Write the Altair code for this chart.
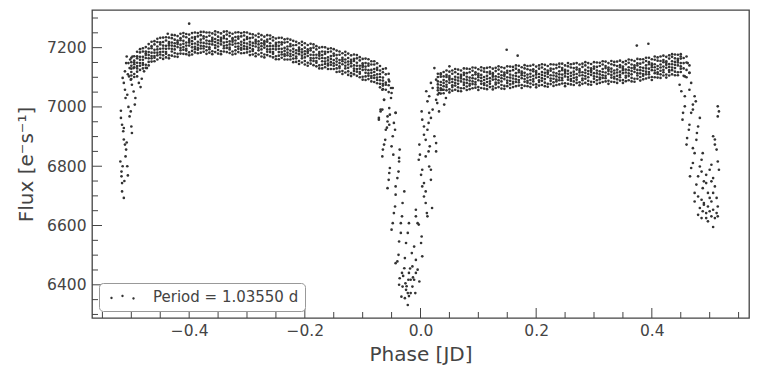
import altair as alt
import pandas as pd

LEGEND = "Period = 1.03550 d"
x_labels = [-0.4, -0.2, 0.0, 0.2, 0.4]
y_labels = [6400, 6600, 6800, 7000, 7200]
x_minor = [-0.55, -0.5, -0.45, -0.35, -0.3, -0.25, -0.15, -0.1, -0.05, 0.05, 0.1, 0.15, 0.25, 0.3, 0.35, 0.45, 0.5, 0.55]
y_minor = [6300, 6350, 6450, 6500, 6550, 6650, 6700, 6750, 6850, 6900, 6950, 7050, 7100, 7150, 7250, 7300]

band_left_phase = [
    -0.500, -0.495, -0.490, -0.485, -0.480, -0.475, -0.470, -0.465, -0.460, -0.455,
    -0.450, -0.445, -0.440, -0.435, -0.430, -0.425, -0.420, -0.415, -0.410, -0.405,
    -0.400, -0.395, -0.390, -0.385, -0.380, -0.375, -0.370, -0.365, -0.360, -0.355,
    -0.350, -0.345, -0.340, -0.335, -0.330, -0.325, -0.320, -0.315, -0.310, -0.305,
    -0.300, -0.295, -0.290, -0.285, -0.280, -0.275, -0.270, -0.265, -0.260, -0.255,
    -0.250, -0.245, -0.240, -0.235, -0.230, -0.225, -0.220, -0.215, -0.210, -0.205,
    -0.200, -0.195, -0.190, -0.185, -0.180, -0.175, -0.170, -0.165, -0.160, -0.155,
    -0.150, -0.145, -0.140, -0.135, -0.130, -0.125, -0.120, -0.115, -0.110, -0.105,
    -0.100, -0.095, -0.090, -0.085, -0.080, -0.075, -0.070, -0.065]
band_left_flux = [
    [7094, 7106, 7118, 7129, 7139, 7151, 7166], [7101, 7111, 7134, 7144, 7150, 7156, 7171],
    [7119, 7130, 7138, 7149, 7164, 7171, 7186], [7125, 7139, 7148, 7159, 7169, 7184, 7195],
    [7130, 7142, 7148, 7159, 7169, 7187, 7198], [7132, 7142, 7165, 7175, 7181, 7187, 7202],
    [7140, 7152, 7164, 7175, 7185, 7197, 7212], [7153, 7164, 7172, 7183, 7198, 7205, 7220],
    [7154, 7166, 7172, 7183, 7193, 7211, 7222], [7160, 7174, 7183, 7194, 7204, 7219, 7230],
    [7166, 7177, 7185, 7196, 7211, 7218, 7233], [7162, 7174, 7186, 7197, 7207, 7219, 7234],
    [7167, 7179, 7185, 7196, 7206, 7224, 7235], [7164, 7174, 7197, 7207, 7213, 7219, 7234],
    [7173, 7187, 7196, 7207, 7217, 7232, 7243], [7170, 7182, 7194, 7205, 7215, 7227, 7242],
    [7169, 7179, 7202, 7212, 7218, 7224, 7239], [7180, 7191, 7199, 7210, 7225, 7232, 7247],
    [7179, 7193, 7202, 7213, 7223, 7238, 7249], [7178, 7190, 7196, 7207, 7217, 7235, 7246],
    [7174, 7184, 7207, 7217, 7223, 7229, 7244], [7177, 7189, 7201, 7212, 7222, 7234, 7249],
    [7184, 7195, 7203, 7214, 7229, 7236, 7251], [7181, 7193, 7199, 7210, 7220, 7238, 7249],
    [7183, 7197, 7206, 7217, 7227, 7242, 7253], [7186, 7197, 7205, 7216, 7231, 7238, 7253],
    [7179, 7191, 7203, 7214, 7224, 7236, 7251], [7183, 7195, 7201, 7212, 7222, 7240, 7251],
    [7178, 7188, 7211, 7221, 7227, 7233, 7248], [7185, 7199, 7208, 7219, 7229, 7244, 7255],
    [7180, 7192, 7204, 7215, 7225, 7237, 7252], [7178, 7188, 7211, 7221, 7227, 7233, 7248],
    [7187, 7198, 7206, 7217, 7232, 7239, 7254], [7185, 7199, 7208, 7219, 7229, 7244, 7255],
    [7182, 7194, 7200, 7211, 7221, 7239, 7250], [7177, 7187, 7210, 7220, 7226, 7232, 7247],
    [7179, 7191, 7203, 7214, 7224, 7236, 7251], [7185, 7196, 7204, 7215, 7230, 7237, 7252],
    [7181, 7193, 7199, 7210, 7220, 7238, 7249], [7182, 7196, 7205, 7216, 7226, 7241, 7252],
    [7184, 7195, 7203, 7214, 7229, 7236, 7251], [7175, 7187, 7199, 7210, 7220, 7232, 7247],
    [7177, 7189, 7195, 7206, 7216, 7234, 7245], [7171, 7181, 7204, 7214, 7220, 7226, 7241],
    [7177, 7191, 7200, 7211, 7221, 7236, 7247], [7170, 7182, 7194, 7205, 7215, 7227, 7242],
    [7167, 7177, 7200, 7210, 7216, 7222, 7237], [7175, 7186, 7194, 7205, 7220, 7227, 7242],
    [7171, 7185, 7194, 7205, 7215, 7230, 7241], [7167, 7179, 7185, 7196, 7206, 7224, 7235],
    [7161, 7171, 7194, 7204, 7210, 7216, 7231], [7161, 7173, 7185, 7196, 7206, 7218, 7233],
    [7166, 7177, 7185, 7196, 7211, 7218, 7233], [7160, 7172, 7178, 7189, 7199, 7217, 7228],
    [7160, 7174, 7183, 7194, 7204, 7219, 7230], [7160, 7171, 7179, 7190, 7205, 7212, 7227],
    [7151, 7163, 7175, 7186, 7196, 7208, 7223], [7152, 7164, 7170, 7181, 7191, 7209, 7220],
    [7145, 7155, 7178, 7188, 7194, 7200, 7215], [7150, 7164, 7173, 7184, 7194, 7209, 7220],
    [7143, 7155, 7167, 7178, 7188, 7200, 7215], [7139, 7149, 7172, 7182, 7188, 7194, 7209],
    [7146, 7157, 7165, 7176, 7191, 7198, 7213], [7141, 7155, 7164, 7175, 7185, 7200, 7211],
    [7137, 7149, 7155, 7166, 7176, 7194, 7205], [7130, 7140, 7163, 7173, 7179, 7185, 7200],
    [7130, 7142, 7154, 7165, 7175, 7187, 7202], [7134, 7145, 7153, 7164, 7179, 7186, 7201],
    [7128, 7140, 7146, 7157, 7167, 7185, 7196], [7128, 7142, 7151, 7162, 7172, 7187, 7198],
    [7128, 7139, 7147, 7158, 7173, 7180, 7195], [7118, 7130, 7142, 7153, 7163, 7175, 7190],
    [7119, 7131, 7137, 7148, 7158, 7176, 7187], [7111, 7121, 7144, 7154, 7160, 7166, 7181],
    [7116, 7130, 7139, 7150, 7160, 7175, 7186], [7108, 7120, 7132, 7143, 7153, 7165, 7180],
    [7104, 7114, 7137, 7147, 7153, 7159, 7174], [7110, 7121, 7129, 7140, 7155, 7162, 7177],
    [7105, 7119, 7128, 7139, 7149, 7164, 7175], [7100, 7112, 7118, 7129, 7139, 7157, 7168],
    [7092, 7102, 7125, 7135, 7141, 7147, 7162], [7091, 7103, 7115, 7126, 7136, 7148, 7163],
    [7094, 7105, 7113, 7124, 7139, 7146, 7161], [7086, 7098, 7104, 7115, 7125, 7143, 7154],
    [7084, 7098, 7107, 7118, 7128, 7143, 7154], [7080, 7091, 7099, 7110, 7125, 7132, 7147],
    [7066, 7078, 7090, 7101, 7111, 7123, 7138], [7060, 7072, 7078, 7089, 7099, 7117, 7128]]

band_right_phase = [
    0.030, 0.035, 0.040, 0.045, 0.050, 0.055, 0.060, 0.065, 0.070, 0.075,
    0.080, 0.085, 0.090, 0.095, 0.100, 0.105, 0.110, 0.115, 0.120, 0.125,
    0.130, 0.135, 0.140, 0.145, 0.150, 0.155, 0.160, 0.165, 0.170, 0.175,
    0.180, 0.185, 0.190, 0.195, 0.200, 0.205, 0.210, 0.215, 0.220, 0.225,
    0.230, 0.235, 0.240, 0.245, 0.250, 0.255, 0.260, 0.265, 0.270, 0.275,
    0.280, 0.285, 0.290, 0.295, 0.300, 0.305, 0.310, 0.315, 0.320, 0.325,
    0.330, 0.335, 0.340, 0.345, 0.350, 0.355, 0.360, 0.365, 0.370, 0.375,
    0.380, 0.385, 0.390, 0.395, 0.400, 0.405, 0.410, 0.415, 0.420, 0.425,
    0.430, 0.435, 0.440, 0.445, 0.450]
band_right_flux = [
    [7042, 7056, 7065, 7076, 7086, 7101, 7112], [7045, 7057, 7063, 7074, 7084, 7102, 7113],
    [7046, 7058, 7070, 7081, 7091, 7103, 7118], [7056, 7067, 7075, 7086, 7101, 7108, 7123],
    [7049, 7059, 7082, 7092, 7098, 7104, 7119], [7055, 7067, 7073, 7084, 7094, 7112, 7123],
    [7058, 7072, 7081, 7092, 7102, 7117, 7128], [7054, 7066, 7078, 7089, 7099, 7111, 7126],
    [7053, 7063, 7086, 7096, 7102, 7108, 7123], [7063, 7074, 7082, 7093, 7108, 7115, 7130],
    [7057, 7069, 7081, 7092, 7102, 7114, 7129], [7060, 7072, 7078, 7089, 7099, 7117, 7128],
    [7063, 7077, 7086, 7097, 7107, 7122, 7133], [7065, 7076, 7084, 7095, 7110, 7117, 7132],
    [7057, 7067, 7090, 7100, 7106, 7112, 7127], [7064, 7078, 7087, 7098, 7108, 7123, 7134],
    [7062, 7074, 7080, 7091, 7101, 7119, 7130], [7060, 7072, 7084, 7095, 7105, 7117, 7132],
    [7067, 7078, 7086, 7097, 7112, 7119, 7134], [7059, 7069, 7092, 7102, 7108, 7114, 7129],
    [7064, 7076, 7082, 7093, 7103, 7121, 7132], [7067, 7081, 7090, 7101, 7111, 7126, 7137],
    [7062, 7074, 7086, 7097, 7107, 7119, 7134], [7061, 7071, 7094, 7104, 7110, 7116, 7131],
    [7070, 7081, 7089, 7100, 7115, 7122, 7137], [7064, 7076, 7088, 7099, 7109, 7121, 7136],
    [7067, 7079, 7085, 7096, 7106, 7124, 7135], [7070, 7084, 7093, 7104, 7114, 7129, 7140],
    [7072, 7083, 7091, 7102, 7117, 7124, 7139], [7064, 7074, 7097, 7107, 7113, 7119, 7134],
    [7071, 7085, 7094, 7105, 7115, 7130, 7141], [7070, 7082, 7088, 7099, 7109, 7127, 7138],
    [7067, 7079, 7091, 7102, 7112, 7124, 7139], [7075, 7086, 7094, 7105, 7120, 7127, 7142],
    [7066, 7076, 7099, 7109, 7115, 7121, 7136], [7072, 7084, 7090, 7101, 7111, 7129, 7140],
    [7074, 7088, 7097, 7108, 7118, 7133, 7144], [7070, 7082, 7094, 7105, 7115, 7127, 7142],
    [7068, 7078, 7101, 7111, 7117, 7123, 7138], [7077, 7088, 7096, 7107, 7122, 7129, 7144],
    [7071, 7083, 7095, 7106, 7116, 7128, 7143], [7074, 7086, 7092, 7103, 7113, 7131, 7142],
    [7076, 7090, 7099, 7110, 7120, 7135, 7146], [7079, 7090, 7098, 7109, 7124, 7131, 7146],
    [7070, 7080, 7103, 7113, 7119, 7125, 7140], [7078, 7092, 7101, 7112, 7122, 7137, 7148],
    [7076, 7088, 7094, 7105, 7115, 7133, 7144], [7074, 7086, 7098, 7109, 7119, 7131, 7146],
    [7081, 7092, 7100, 7111, 7126, 7133, 7148], [7073, 7083, 7106, 7116, 7122, 7128, 7143],
    [7078, 7090, 7096, 7107, 7117, 7135, 7146], [7081, 7095, 7104, 7115, 7125, 7140, 7151],
    [7076, 7088, 7100, 7111, 7121, 7133, 7148], [7075, 7085, 7108, 7118, 7124, 7130, 7145],
    [7084, 7095, 7103, 7114, 7129, 7136, 7151], [7078, 7090, 7102, 7113, 7123, 7135, 7150],
    [7081, 7093, 7099, 7110, 7120, 7138, 7149], [7084, 7098, 7107, 7118, 7128, 7143, 7154],
    [7086, 7097, 7105, 7116, 7131, 7138, 7153], [7078, 7088, 7111, 7121, 7127, 7133, 7148],
    [7085, 7099, 7108, 7119, 7129, 7144, 7155], [7084, 7096, 7102, 7113, 7123, 7141, 7152],
    [7081, 7093, 7105, 7116, 7126, 7138, 7153], [7089, 7100, 7108, 7119, 7134, 7141, 7156],
    [7081, 7091, 7114, 7124, 7130, 7136, 7151], [7087, 7099, 7105, 7116, 7126, 7144, 7155],
    [7090, 7104, 7113, 7124, 7134, 7149, 7160], [7086, 7098, 7110, 7121, 7131, 7143, 7158],
    [7085, 7095, 7118, 7128, 7134, 7140, 7155], [7095, 7106, 7114, 7125, 7140, 7147, 7162],
    [7089, 7101, 7113, 7124, 7134, 7146, 7161], [7093, 7105, 7111, 7122, 7132, 7150, 7161],
    [7096, 7110, 7119, 7130, 7140, 7155, 7166], [7099, 7110, 7118, 7129, 7144, 7151, 7166],
    [7091, 7101, 7124, 7134, 7140, 7146, 7161], [7100, 7114, 7123, 7134, 7144, 7159, 7170],
    [7099, 7111, 7117, 7128, 7138, 7156, 7167], [7098, 7110, 7122, 7133, 7143, 7155, 7170],
    [7106, 7117, 7125, 7136, 7151, 7158, 7173], [7099, 7109, 7132, 7142, 7148, 7154, 7169],
    [7106, 7118, 7124, 7135, 7145, 7163, 7174], [7110, 7124, 7133, 7144, 7154, 7169, 7178],
    [7107, 7119, 7131, 7142, 7152, 7164, 7177], [7107, 7117, 7140, 7150, 7156, 7162, 7176],
    [7118, 7129, 7137, 7148, 7163, 7170, 7178]]

# egress at the left edge (phase ~ -0.52 .. -0.47) and outliers
edge_left_phase = [-0.513, -0.516, -0.516, -0.517, -0.517, -0.519, -0.507, -0.506, -0.510, -0.509,
                   -0.511, -0.513, -0.514, -0.516, -0.518, -0.518, -0.513, -0.503, -0.501, -0.500,
                   -0.499, -0.494, -0.493, -0.496, -0.499, -0.487, -0.484, -0.510, -0.507, -0.511,
                   -0.513, -0.515, -0.511, -0.509, -0.504, -0.501, -0.490, -0.503, -0.496, -0.505,
                   -0.512, -0.515, -0.508, -0.505, -0.506, -0.502, -0.508, -0.498, -0.478, -0.473,
                   -0.482, -0.400, -0.437]
edge_left_flux = [6693, 6715, 6743, 6766, 6782, 6816, 6800, 6769, 6833, 6856,
                  6873, 6890, 6918, 6940, 6963, 6987, 6929, 6968, 6985, 6934,
                  6912, 7008, 7030, 7052, 7075, 7081, 7067, 7030, 7041, 7058,
                  7081, 7098, 7120, 7148, 7103, 7092, 7103, 7131, 7131, 7148,
                  6750, 6800, 6880, 7000, 7110, 7160, 7170, 7170, 7120, 7131,
                  7095, 7281, 7247]

# primary eclipse around phase 0
dip_phase = [-0.060, -0.060, -0.060, -0.060, -0.055, -0.055, -0.055, -0.055,
             -0.054, -0.048, -0.051, -0.043, -0.069, -0.072, -0.057, -0.054, -0.058, -0.063, -0.066, -0.060,
             -0.051, -0.050, -0.063, -0.066, -0.069, -0.072, -0.054, -0.053, -0.043, -0.057,
             -0.060, -0.046, -0.044, -0.061, -0.063, -0.065, -0.066, -0.048, -0.050, -0.047,
             -0.036, -0.037, -0.037, -0.053, -0.054, -0.055, -0.057, -0.038, -0.040, -0.043,
             -0.043, -0.028, -0.031, -0.044, -0.046, -0.032, -0.034, -0.048, -0.050, -0.020,
             -0.034, -0.022, -0.037, -0.025, -0.038, -0.040, -0.043, -0.027, -0.028, -0.032,
             -0.036, -0.037, -0.031, -0.025, -0.022, -0.027, -0.022, -0.017, -0.014, -0.011,
             -0.017, -0.008, -0.005, -0.014, -0.020, -0.021, -0.008, -0.002, -0.015, -0.011,
             0.003, 0.001, 0.002, -0.005, -0.003, -0.008, -0.008,
             -0.030, -0.018, -0.026, -0.013, -0.033, -0.020, -0.009, -0.024,
             0.012, 0.011, 0.020, 0.009, 0.006, 0.003, 0.006, 0.009, 0.018, 0.001,
             0.003, 0.015, 0.018, -0.003, -0.001, 0.009, 0.014, 0.016, 0.027, -0.002,
             0.009, 0.006, 0.012, 0.024, 0.027, 0.006, 0.014, 0.018, 0.003, 0.002,
             0.015, 0.021, 0.032, 0.012, 0.015, 0.027, 0.029, 0.010, 0.041, 0.044,
             0.021, 0.018, 0.027, 0.024, 0.035, 0.032, 0.038, 0.050]
dip_flux = [7058, 7082, 7110, 7130, 7050, 7073, 7092, 7112,
            7086, 7064, 7030, 6980, 6991, 6963, 6968, 6940, 6930, 7024, 7058, 7075,
            7064, 7047, 7024, 6991, 6985, 6957, 6996, 6974, 6980, 6951,
            6923, 6946, 6923, 6889, 6873, 6856, 6833, 6901, 6867, 6839,
            6856, 6828, 6816, 6794, 6777, 6754, 6726, 6782, 6760, 6732,
            6704, 6715, 6676, 6664, 6642, 6631, 6608, 6608, 6586, 6608,
            6575, 6575, 6546, 6541, 6501, 6479, 6473, 6490, 6456, 6440,
            6422, 6400, 6394, 6383, 6372, 6355, 6332, 6372, 6394, 6417,
            6417, 6440, 6451, 6462, 6440, 6417, 6484, 6411, 6507, 6529,
            6496, 6541, 6563, 6608, 6603, 6631, 6653,
            6430, 6455, 6405, 6425, 6360, 6362, 6372, 6395,
            6631, 6642, 6659, 6676, 6698, 6732, 6743, 6715, 6754, 6771,
            6788, 6799, 6788, 6822, 6839, 6833, 6850, 6867, 6850, 6873,
            6889, 6906, 6923, 6901, 6878, 6934, 6946, 6963, 6957, 6985,
            6980, 6991, 6985, 7019, 7036, 7024, 7013, 7053, 7008, 7030,
            7064, 7081, 7092, 7131, 7109, 7047, 7058, 7137]

# secondary eclipse ingress at the right edge (phase ~ 0.45 .. 0.52) and outliers
edge_right_phase = [0.455, 0.455, 0.455, 0.455, 0.460, 0.460, 0.460, 0.460, 0.465, 0.465,
                    0.462, 0.465, 0.457, 0.448, 0.451, 0.457, 0.468, 0.465, 0.474, 0.476,
                    0.471, 0.457, 0.454, 0.453, 0.468, 0.471, 0.483, 0.465, 0.464, 0.480,
                    0.478, 0.461, 0.460, 0.477, 0.471, 0.474, 0.488, 0.486, 0.471, 0.468,
                    0.466, 0.483, 0.486, 0.480, 0.494, 0.500, 0.503, 0.490, 0.477, 0.474,
                    0.474, 0.488, 0.494, 0.503, 0.509, 0.506, 0.506, 0.512, 0.480, 0.486,
                    0.490, 0.497, 0.503, 0.483, 0.488, 0.494, 0.500, 0.506, 0.512, 0.514,
                    0.480, 0.486, 0.494, 0.503, 0.509, 0.514, 0.497, 0.506, 0.490, 0.500,
                    0.497, 0.514, 0.516, 0.514, 0.506, 0.509, 0.512, 0.514, 0.516, 0.509,
                    0.149, 0.168, 0.374, 0.394]
edge_right_flux = [7105, 7130, 7148, 7165, 7100, 7125, 7150, 7170, 7115, 7140,
                   7148, 7115, 7103, 7075, 7053, 7036, 7081, 7058, 7036, 7019,
                   7008, 7002, 6980, 6957, 6980, 6991, 6963, 6940, 6923, 6934,
                   6912, 6895, 6873, 6889, 6861, 6844, 6844, 6822, 6811, 6794,
                   6766, 6799, 6782, 6766, 6771, 6788, 6805, 6749, 6738, 6710,
                   6681, 6726, 6743, 6749, 6732, 6760, 6710, 6693, 6698, 6687,
                   6676, 6664, 6681, 6659, 6648, 6642, 6648, 6653, 6642, 6664,
                   6636, 6625, 6625, 6631, 6625, 6631, 6614, 6595, 6670, 6693,
                   6710, 7002, 6985, 6968, 6901, 6873, 6856, 6816, 6788, 6890,
                   7193, 7173, 7207, 7213]

rows = []
for p, fl in zip(band_left_phase, band_left_flux):
    rows += [(p, f) for f in fl]
for p, fl in zip(band_right_phase, band_right_flux):
    rows += [(p, f) for f in fl]
rows += list(zip(edge_left_phase, edge_left_flux))
rows += list(zip(dip_phase, dip_flux))
rows += list(zip(edge_right_phase, edge_right_flux))
pts = pd.DataFrame(rows, columns=["phase", "flux"])
pts["label"] = LEGEND

FONT = "DejaVu Sans"
TXT = "#444444"
TICK = "#444444"
xs = alt.Scale(domain=[-0.568, 0.568], nice=False, zero=False)
ys = alt.Scale(domain=[6288, 7327], nice=False, zero=False)
x_axis = alt.Axis(values=x_labels, format=".1f", title="Phase [JD]", ticks=False, tickSize=0,
                  domain=False, grid=False, labelPadding=5, titlePadding=6,
                  labelFontSize=15.5, titleFontSize=20)
y_axis = alt.Axis(values=y_labels, format="d", title="Flux [e⁻s⁻¹]", ticks=False, tickSize=0,
                  domain=False, grid=False, labelPadding=6, titlePadding=10,
                  labelFontSize=15.5, titleFontSize=20)

dots = "M-0.44,0.3A0.24,0.24 0 1,0 0.04,0.3A0.24,0.24 0 1,0 -0.44,0.3Z M1.76,-0.1A0.24,0.24 0 1,0 2.24,-0.1A0.24,0.24 0 1,0 1.76,-0.1Z M3.96,0.4A0.24,0.24 0 1,0 4.44,0.4A0.24,0.24 0 1,0 3.96,0.4Z"

points = alt.Chart(pts).mark_circle(size=7, opacity=1).encode(
    x=alt.X("phase:Q", scale=xs, axis=x_axis),
    y=alt.Y("flux:Q", scale=ys, axis=y_axis),
    color=alt.Color("label:N", scale=alt.Scale(domain=[LEGEND], range=["#333333"]),
                    legend=alt.Legend(title=None, orient="none", legendX=7, legendY=273,
                                      symbolType=dots, symbolSize=100, symbolStrokeWidth=0,
                                      labelFont=FONT, labelFontSize=15, labelColor=TXT,
                                      labelOffset=33, padding=6, strokeColor="#999999",
                                      cornerRadius=4, fillColor="white")),
)

xt_major = alt.Chart(pd.DataFrame({"phase": x_labels})).mark_rule(color=TICK, strokeWidth=1).encode(
    x=alt.X("phase:Q", scale=xs, axis=x_axis), y=alt.value(308), y2=alt.value(298))
xt_minor = alt.Chart(pd.DataFrame({"phase": x_minor})).mark_rule(color=TICK, strokeWidth=1).encode(
    x=alt.X("phase:Q", scale=xs, axis=x_axis), y=alt.value(308), y2=alt.value(302))
yt_major = alt.Chart(pd.DataFrame({"flux": y_labels})).mark_rule(color=TICK, strokeWidth=1).encode(
    y=alt.Y("flux:Q", scale=ys, axis=y_axis), x=alt.value(0), x2=alt.value(10))
yt_minor = alt.Chart(pd.DataFrame({"flux": y_minor})).mark_rule(color=TICK, strokeWidth=1).encode(
    y=alt.Y("flux:Q", scale=ys, axis=y_axis), x=alt.value(0), x2=alt.value(6))

chart = alt.layer(points, xt_major, xt_minor, yt_major, yt_minor).properties(
    width=657, height=308,
    padding={"left": 84, "top": 2, "right": 2, "bottom": 50},
    autosize=alt.AutoSizeParams(type="none"),
    background="white",
).configure_view(stroke="#444444", strokeWidth=1.3).configure_axis(
    labelFont=FONT, titleFont=FONT, labelColor=TXT, titleColor=TXT, titleFontWeight="normal"
)

chart.save("out.html", embed_options={"renderer": "svg", "actions": False})
